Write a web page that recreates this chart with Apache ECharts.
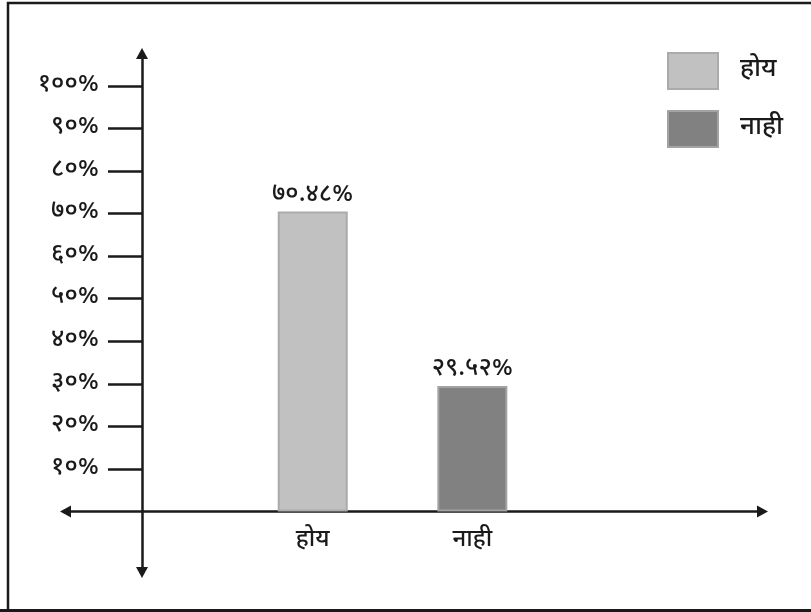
<!DOCTYPE html>
<html>
<head>
<meta charset="utf-8">
<script src="https://cdn.jsdelivr.net/npm/echarts@6/dist/echarts.min.js"></script>
<style>
html,body{margin:0;padding:0;background:#fff;}
#chart{width:811px;height:612px;}
</style>
</head>
<body>
<div id="chart"></div>
<script>
const categories = ['होय', 'नाही'];
const values = [70.48, 29.52];
const yTicks = [10, 20, 30, 40, 50, 60, 70, 80, 90, 100];
const barColors = ['#c1c1c1', '#818181'];
const barBorders = ['#ababab', '#a3a3a3'];

const devDigits = ['०','१','२','३','४','५','६','७','८','९'];
function toDev(s) { return String(s).replace(/[0-9]/g, d => devDigits[+d]); }

const FONT = '"Noto Sans Devanagari", "Noto Sans", "DejaVu Sans", sans-serif';
const TXT = '#1a1a1a';

const chart = echarts.init(document.getElementById('chart'), null, {renderer: 'canvas'});

const series = categories.map((c, i) => ({
  name: c,
  type: 'bar',
  barWidth: 70,
  barGap: '-100%',
  data: [[i + 1, values[i]]],
  itemStyle: { color: barColors[i], borderColor: barBorders[i], borderWidth: 2 },
  label: {
    show: true, position: 'top', distance: 3,
    color: TXT, fontSize: 25, fontWeight: 500, fontFamily: FONT,
    formatter: p => toDev(p.value[1].toFixed(2)) + '%'
  }
}));

chart.setOption({
  animation: false,
  backgroundColor: '#fff',
  graphic: [{
    type: 'polyline',
    shape: { points: [[8, 620], [8, 3], [820, 3]] },
    style: { stroke: TXT, lineWidth: 2.5, fill: null }
  }, {
    type: 'line',
    shape: { x1: 0, y1: 610.5, x2: 811, y2: 610.5 },
    style: { stroke: TXT, lineWidth: 3 }
  }],
  legend: {
    orient: 'vertical',
    left: 667, top: 52, padding: 0,
    itemWidth: 50, itemHeight: 36, itemGap: 20,
    icon: 'rect',
    itemStyle: { borderWidth: 2 },
    textStyle: { fontSize: 26, fontWeight: 500, color: TXT, fontFamily: FONT, padding: [0, 0, 0, 17] },
    data: categories
  },
  grid: { left: 65.5, right: 48.5, top: 53.5, bottom: 39.5, containLabel: false },
  xAxis: {
    type: 'value',
    min: -0.549, max: 3.818,
    splitLine: { show: false },
    axisTick: { show: false },
    axisLine: {
      onZero: true,
      lineStyle: { color: TXT, width: 2.5 },
      symbol: ['triangle', 'triangle'], symbolSize: [12, 11]
    },
    axisLabel: {
      customValues: categories.map((c, i) => i + 1),
      formatter: v => categories[Math.round(v) - 1] || '',
      margin: -43, fontSize: 24, fontWeight: 500, color: TXT, fontFamily: FONT
    }
  },
  yAxis: {
    type: 'value',
    min: -14.3, max: 107.6,
    position: 'left',
    offset: -76.5,
    splitLine: { show: false },
    axisLine: {
      show: true, onZero: false,
      lineStyle: { color: TXT, width: 2.5 },
      symbol: ['triangle', 'triangle'], symbolSize: [12, 11]
    },
    axisTick: {
      show: true, length: 34, customValues: yTicks,
      lineStyle: { color: TXT, width: 2.5 }
    },
    axisLabel: {
      customValues: yTicks, margin: 43,
      formatter: v => toDev(v) + '%',
      fontSize: 25, fontWeight: 500, color: TXT, fontFamily: FONT
    }
  },
  series: series
});
</script>
</body>
</html>
